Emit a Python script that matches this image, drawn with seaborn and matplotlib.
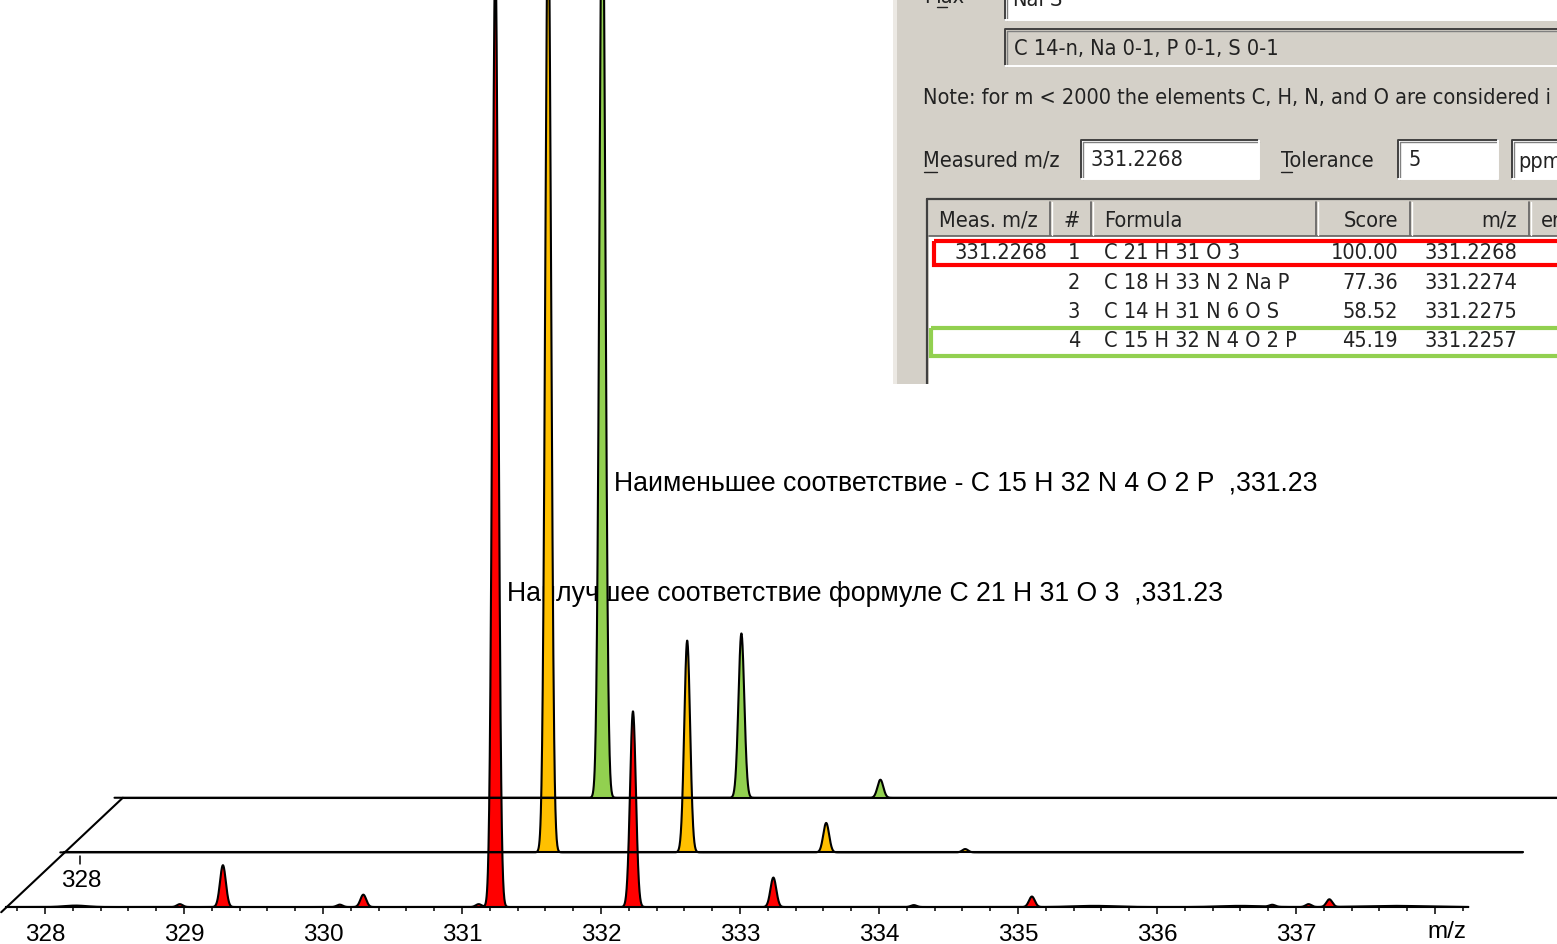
import numpy as np
import matplotlib
matplotlib.use("Agg")
import matplotlib.pyplot as plt
from matplotlib.patches import Rectangle
from matplotlib.lines import Line2D
from matplotlib.ticker import FixedLocator
import seaborn as sns

# ---------------------------------------------------------------- data
# measured spectrum: centroid m/z and relative intensity (%)
measured_mz = [328.97, 329.28, 330.12, 330.29, 331.12, 331.24, 332.23, 333.24,
               334.25, 335.10, 336.83, 337.09, 337.24]
measured_int = [0.3, 4.4, 0.25, 1.3, 0.3, 100.0, 20.6, 3.1, 0.2, 1.1, 0.2, 0.3, 0.8]
# low broad humps on the measured baseline
hump_mz = [328.22, 335.55, 336.60, 337.70]
hump_int = [0.15, 0.12, 0.12, 0.12]
hump_width = [0.08, 0.15, 0.15, 0.22]

# simulated isotope pattern, best candidate C21H31O3
best_mz = [331.23, 332.23, 333.23, 334.23]
best_int = [100.0, 22.3, 3.1, 0.35]
# simulated isotope pattern, weakest candidate C15H32N4O2P
worst_mz = [331.23, 332.23, 333.23]
worst_int = [100.0, 17.3, 1.9]

major_ticks = [328, 329, 330, 331, 332, 333, 334, 335, 336, 337, 338]
tick_labels = ["328", "329", "330", "331", "332", "333", "334", "335", "336", "337", ""]

label_best = "Наилучшее соответствие формуле C 21 H 31 O 3  ,331.23"
label_worst = "Наименьшее соответствие - C 15 H 32 N 4 O 2 P  ,331.23"

# candidate table of the formula search dialog
tbl_meas = ["331.2268", "", "", ""]
tbl_rank = ["1", "2", "3", "4"]
tbl_formula = ["C 21 H 31 O 3", "C 18 H 33 N 2 Na P", "C 14 H 31 N 6 O S", "C 15 H 32 N 4 O 2 P"]
tbl_score = ["100.00", "77.36", "58.52", "45.19"]
tbl_mz = ["331.2268", "331.2274", "331.2275", "331.2257"]

# ---------------------------------------------------------------- style
RED, YELLOW, GREEN = "#FF0000", "#FFC000", "#92D050"
SIGMA = 0.021            # peak width (m/z)
DX, DY = 0.39, 5.75      # perspective shift per layer (m/z, %)
FLOOR_DX = 0.42          # shift of the floor edge per layer (m/z)
MZ_START, MZ_END = 327.72, 338.24

sns.set_theme(style="white")
plt.rcParams["font.family"] = ["Liberation Sans", "DejaVu Sans"]
plt.rcParams["text.color"] = "black"
plt.rcParams["xtick.color"] = "black"
plt.rcParams["xtick.labelcolor"] = "black"

W, H = 1557, 945
fig = plt.figure(figsize=(W / 100, H / 100), dpi=100)
fig.patch.set_facecolor("white")


def fx(px):
    return px / W


def fy(py):
    return 1 - py / H


ax = fig.add_axes([0, fy(908), 1, 908 / H])
ax.set_facecolor("none")
ax.set_xlim(328 - 45 / 139.0, 328 + (W - 45) / 139.0)
ax.set_ylim(0, 908 / 9.5)

grid = np.linspace(MZ_START, MZ_END, 7000)


def profile(mzs, ints, widths=None):
    y = np.zeros_like(grid)
    for i, (m, h) in enumerate(zip(mzs, ints)):
        s = SIGMA if widths is None else widths[i]
        y += h * np.exp(-0.5 * ((grid - m) / s) ** 2)
    return y


layers = [
    (worst_mz, worst_int, None, GREEN, 2),
    (best_mz, best_int, None, YELLOW, 1),
    (measured_mz, measured_int, (hump_mz, hump_int, hump_width), RED, 0),
]

for mzs, ints, humps, color, k in layers:
    y = profile(mzs, ints)
    if humps is not None:
        y = y + profile(*humps)
    xs = grid + k * DX
    ys = y + k * DY
    ax.fill_between(xs, k * DY, ys, color=color, lw=0, zorder=2 + (2 - k) * 0.1,
                    clip_on=False)
    sns.lineplot(x=xs, y=ys, ax=ax, color="black", lw=1.5, sort=False,
                 estimator=None, zorder=3 + (2 - k) * 0.1, clip_on=False)
    if k > 0:
        # layer floor drawn over the peaks in front of it
        ax.plot([MZ_START + k * FLOOR_DX, MZ_END + k * DX], [k * DY, k * DY],
                color="black", lw=1.5, zorder=5, clip_on=False)

# perspective edge joining the layer floors
ax.plot([MZ_START - 0.035, MZ_START + 2 * FLOOR_DX], [-0.55, 2 * DY],
        color="black", lw=1.5, zorder=5, clip_on=False)

# x axis
for side in ["left", "right", "top"]:
    ax.spines[side].set_visible(False)
ax.spines["bottom"].set_bounds(MZ_START, MZ_END)
ax.spines["bottom"].set_linewidth(1.5)
ax.spines["bottom"].set_color("black")
ax.xaxis.set_major_locator(FixedLocator(major_ticks))
ax.set_xticklabels(tick_labels)
minor = [round(327.8 + 0.2 * i, 1) for i in range(53)]
ax.xaxis.set_minor_locator(FixedLocator([m for m in minor if m <= MZ_END]))
ax.tick_params(axis="x", which="major", direction="out", length=5, width=1.1,
               color="black", labelcolor="black", labelsize=17.5, pad=6.5, bottom=True)
ax.tick_params(axis="x", which="minor", direction="out", length=3, width=1.1,
               color="black", bottom=True)
ax.set_yticks([])
ax.grid(False)

fig.text(fx(1447), fy(932), "m/z", fontsize=17.5, ha="center", va="center", color="black")

# depth tick of the middle floor
fig.add_artist(Line2D([fx(80), fx(80)], [fy(857), fy(865)], color="black", lw=1.1))
fig.text(fx(81), fy(881), "328", fontsize=17.5, ha="center", va="center", color="black")

# annotations (behind the peaks)
ax.text(fx(614), fy(484), label_worst, transform=fig.transFigure, fontsize=19.2,
        ha="left", va="center", zorder=1, color="black")
ax.text(fx(507), fy(594), label_best, transform=fig.transFigure, fontsize=19.2,
        ha="left", va="center", zorder=1, color="black")

# ---------------------------------------------------------------- dialog panel
ins = fig.add_axes([fx(893), fy(385), (W - 893) / W, 385 / H])
ins.set_xlim(893, W)
ins.set_ylim(385, 0)
ins.axis("off")
ins.set_zorder(10)

PANEL = "#D4D0C8"
DARK = "#808080"
TXT = "#222222"
ui = dict(family=["DejaVu Sans"], fontstretch="condensed", fontsize=15.6, color=TXT)


def rect(x, y, w, h, fc, ec="none", lw=0, z=1):
    ins.add_patch(Rectangle((x, y), w, h, facecolor=fc, edgecolor=ec, lw=lw, zorder=z,
                            clip_on=True))


def sunken(x, y, w, h, fc):
    rect(x, y, w, h, fc, z=1)
    ins.plot([x, x, x + w], [y + h, y, y], color="#404040", lw=1.4, zorder=2)
    ins.plot([x + 1.5, x + 1.5, x + w], [y + h, y + 1.5, y + 1.5], color=DARK, lw=1.0, zorder=2)
    ins.plot([x, x + w, x + w], [y + h, y + h, y], color="white", lw=1.4, zorder=2)


rect(893, 0, W - 893, 385, PANEL, z=0)
rect(893, 0, 4, 385, "#ECE9E4", z=0.5)

ins.text(924, -3, "Max", va="center", ha="left", **ui)
ins.plot([937, 947], [8, 8], color=TXT, lw=1.0)
sunken(1005, -6, 560, 27, "white")
ins.text(1012, 0, "NaPS", va="center", ha="left", **ui)
sunken(1005, 30, 560, 37, PANEL)
ins.text(1014, 49, "C 14-n, Na 0-1, P 0-1, S 0-1", va="center", ha="left", **ui)
ins.text(923, 98, "Note: for m < 2000 the elements C, H, N, and O are considered i",
         va="center", ha="left", **ui)

ins.text(923, 161, "Measured m/z", va="center", ha="left", **ui)
ins.plot([924, 937], [173, 173], color=TXT, lw=1.0)
sunken(1081, 141, 178, 39, "white")
ins.text(1091, 160, "331.2268", va="center", ha="left", **ui)
ins.text(1281, 161, "Tolerance", va="center", ha="left", **ui)
ins.plot([1281, 1292], [173, 173], color=TXT, lw=1.0)
sunken(1398, 141, 100, 39, "white")
ins.text(1409, 160, "5", va="center", ha="left", **ui)
sunken(1512, 141, 80, 39, "white")
ins.text(1518, 162, "ppm", va="center", ha="left", **ui)

# table frame and header
rect(929, 237, W - 929, 150, "white", z=1)
ins.plot([927, 927], [385, 200], color="#404040", lw=1.6, zorder=3)
ins.plot([927, W], [200, 200], color="#404040", lw=1.6, zorder=3)
ins.plot([929, W], [237, 237], color="#606060", lw=1.2, zorder=3)
for cx in [1050, 1091, 1316, 1410, 1529]:
    ins.plot([cx, cx], [203, 236], color="#606060", lw=1.2, zorder=3)
    ins.plot([cx + 2, cx + 2], [203, 236], color="white", lw=1.0, zorder=3)

ins.text(939, 221, "Meas. m/z", va="center", ha="left", **ui)
ins.text(1072, 221, "#", va="center", ha="center", **ui)
ins.text(1104, 221, "Formula", va="center", ha="left", **ui)
ins.text(1398, 221, "Score", va="center", ha="right", **ui)
ins.text(1517, 221, "m/z", va="center", ha="right", **ui)
ins.text(1541, 221, "er", va="center", ha="left", **ui)

row_y = [253, 283, 312, 341]
for i, ry in enumerate(row_y):
    ins.text(1047, ry, tbl_meas[i], va="center", ha="right", **ui)
    ins.text(1080, ry, tbl_rank[i], va="center", ha="right", **ui)
    ins.text(1104, ry, tbl_formula[i], va="center", ha="left", **ui)
    ins.text(1398, ry, tbl_score[i], va="center", ha="right", **ui)
    ins.text(1517, ry, tbl_mz[i], va="center", ha="right", **ui)

# highlighted candidates
ins.add_patch(Rectangle((934, 242), 660, 24, facecolor="none", edgecolor=RED,
                        lw=3.0, zorder=4))
ins.add_patch(Rectangle((931, 329), 660, 28, facecolor="none", edgecolor=GREEN,
                        lw=3.0, zorder=4))

fig.savefig("out.png", dpi=100, facecolor="white")
